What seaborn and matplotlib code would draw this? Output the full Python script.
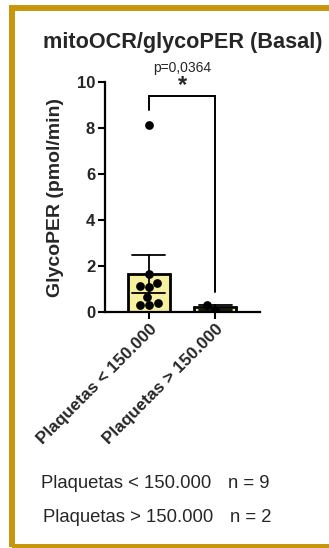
import matplotlib
matplotlib.use("Agg")
import matplotlib.pyplot as plt
from matplotlib.patches import Rectangle
import seaborn as sns
import pandas as pd

# Basal glycoPER per platelet group (pmol/min)
groups = ["Plaquetas < 150.000", "Plaquetas > 150.000"]
low_platelets = [8.15, 1.65, 1.27, 1.07, 1.14, 0.66, 0.39, 0.29, 0.29]
high_platelets = [0.28, 0.10]
y_ticks = [0, 2, 4, 6, 8, 10]
p_value_text = "p=0,0364"
n_labels = ["n = 9", "n = 2"]

df = pd.DataFrame({
    "group": [groups[0]] * len(low_platelets) + [groups[1]] * len(high_platelets),
    "value": low_platelets + high_platelets,
})

sns.set_style("ticks")
plt.rcParams["font.family"] = ["Liberation Sans", "DejaVu Sans"]

fig = plt.figure(figsize=(3.29, 5.48), dpi=100)
ax = fig.add_axes([0.319, 0.431, 0.471, 0.4186])

sns.barplot(data=df, x="group", y="value", order=groups, errorbar="se",
            capsize=0.5, color="#F7F09C", edgecolor="black", linewidth=2,
            width=0.636, saturation=1,
            err_kws={"color": "black", "linewidth": 1.3}, ax=ax)
sns.swarmplot(data=df, x="group", y="value", order=groups, color="black",
              size=6.3, ax=ax)

ax.set_xlim(-0.667, 1.68)
ax.set_ylim(0, 10)
ax.set_yticks(y_ticks)
ax.set_yticklabels([str(t) for t in y_ticks], fontweight="bold", fontsize=12)
ax.set_xticks([0, 1])
ax.set_xticklabels(groups, rotation=45, ha="right", rotation_mode="anchor",
                   fontweight="bold", fontsize=12.3)
ax.set_xlabel("")
ax.set_ylabel("GlycoPER (pmol/min)", fontweight="bold", fontsize=14, labelpad=9)
ax.tick_params(axis="both", width=1.5, length=5, color="black", pad=2)
for side in ("left", "bottom"):
    ax.spines[side].set_linewidth(1.6)
    ax.spines[side].set_color("black")
sns.despine(ax=ax)

# significance bracket
ax.plot([0, 0, 1, 1], [8.8, 9.39, 9.39, 0.87], color="black", lw=1.4,
        clip_on=False, solid_joinstyle="miter")
ax.text(0.5, 9.85, "*", ha="center", va="center", fontsize=17,
        fontweight="bold")
ax.text(0.5, 10.62, p_value_text, ha="center", va="center", fontsize=10)

fig.text(0.556, 0.923, "mitoOCR/glycoPER (Basal)", ha="center", va="center",
         fontsize=15.6, fontweight="bold")

# sample sizes
rows_y = [483, 518]
rows_x = [41, 43]
for label, n, y, x in zip(groups, n_labels, rows_y, rows_x):
    fig.text(x / 329, 1 - y / 548, label, ha="left", va="center", fontsize=13.3)
    fig.text((x + 187) / 329, 1 - y / 548, n, ha="left", va="center",
             fontsize=13.3)

# frame
fig.patches.append(Rectangle((12 / 329, 1 - 547 / 548), 340 / 329, 539 / 548,
                             transform=fig.transFigure, fill=False,
                             edgecolor="#C8960C", linewidth=4.3))

fig.savefig("out.png", dpi=100)
